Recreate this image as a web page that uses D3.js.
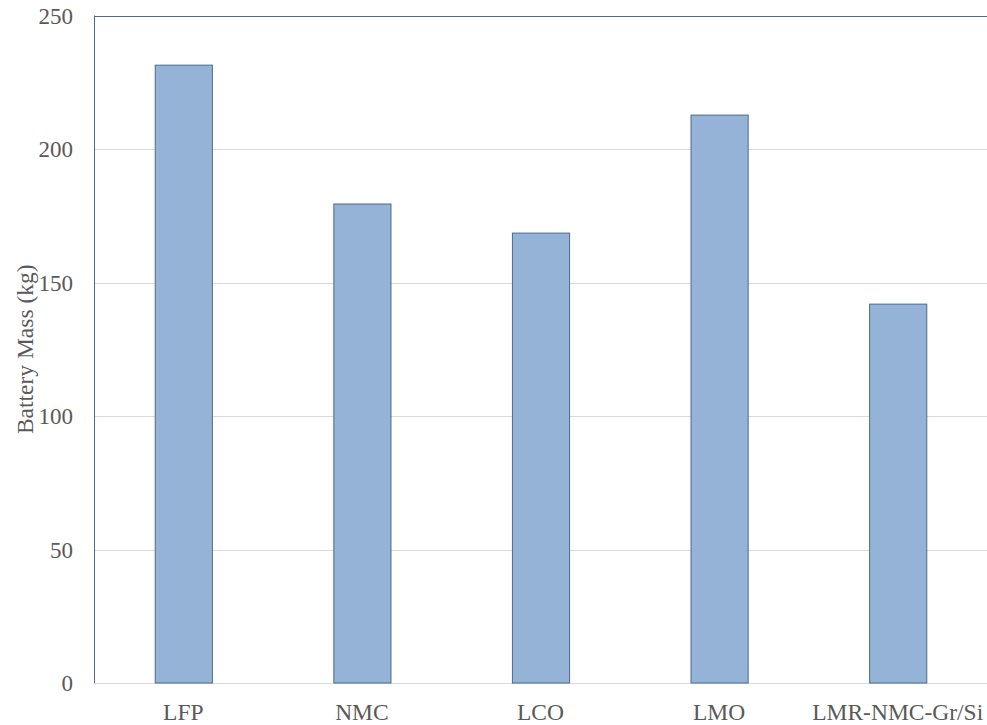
<!DOCTYPE html>
<html>
<meta charset="utf-8">
<style>
  body { margin: 0; background: #fff; }
  text { font-family: "Liberation Serif", "Times New Roman", serif; fill: #595959; }
</style>
<body>
<div id="viz"></div>
<script src="https://d3js.org/d3.v7.min.js"></script>
<script>
var categories = ["LFP", "NMC", "LCO", "LMO", "LMR-NMC-Gr/Si"];
var masses = [231.4, 179.4, 168.5, 212.7, 141.9];
var yTicks = [0, 50, 100, 150, 200, 250];

var width = 987, height = 725;
var plotLeft = 94, plotTop = 15.5, plotRight = 987, plotBottom = 683;

var svg = d3.select("#viz").append("svg")
  .attr("width", width)
  .attr("height", height);

var x = d3.scaleBand()
  .domain(categories)
  .range([plotLeft, plotRight])
  .paddingInner(0.68)
  .paddingOuter(0.34);

var y = d3.scaleLinear()
  .domain([0, 250])
  .range([plotBottom, plotTop]);

// gridlines
svg.append("g")
  .selectAll("line")
  .data(yTicks)
  .enter().append("line")
  .attr("x1", plotLeft)
  .attr("x2", plotRight)
  .attr("y1", function(d) { return Math.round(y(d)) + 0.5; })
  .attr("y2", function(d) { return Math.round(y(d)) + 0.5; })
  .attr("stroke", function(d) { return d == 250 ? "#4f6b8c" : "#d9d9d9"; })
  .attr("stroke-width", 1);

// bars
svg.append("g")
  .selectAll("rect")
  .data(categories)
  .enter().append("rect")
  .attr("x", function(d) { return x(d) + 0.5; })
  .attr("y", function(d, i) { return y(masses[i]); })
  .attr("width", x.bandwidth())
  .attr("height", function(d, i) { return y(0) - y(masses[i]); })
  .attr("fill", "#95b3d7")
  .attr("stroke", "#4a6a90")
  .attr("stroke-width", 1);

// left axis line
svg.append("line")
  .attr("x1", plotLeft + 0.5).attr("x2", plotLeft + 0.5)
  .attr("y1", plotTop).attr("y2", plotBottom)
  .attr("stroke", "#4f6b8c");

// y tick labels
svg.append("g")
  .selectAll("text")
  .data(yTicks)
  .enter().append("text")
  .attr("x", 73)
  .attr("y", function(d) { return y(d); })
  .attr("dy", "0.35em")
  .attr("text-anchor", "end")
  .style("font-size", "23px")
  .text(function(d) { return d; });

// x tick labels
svg.append("g")
  .selectAll("text")
  .data(categories)
  .enter().append("text")
  .attr("x", function(d) { return x(d) + x.bandwidth() / 2; })
  .attr("y", 720)
  .attr("text-anchor", "middle")
  .style("font-size", "23.5px")
  .text(function(d) { return d; });

// axis title
svg.append("text")
  .attr("transform", "translate(33," + ((plotTop + plotBottom) / 2) + ") rotate(-90)")
  .attr("text-anchor", "middle")
  .style("font-size", "23.5px")
  .text("Battery Mass (kg)");
</script>
</body>
</html>
